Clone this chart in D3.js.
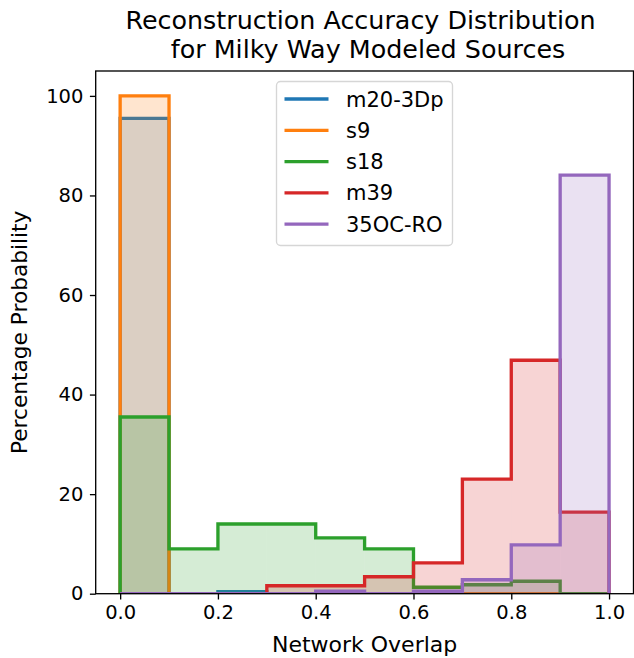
<!DOCTYPE html>
<meta charset="utf-8">
<style>
  body { margin: 0; background: #fff; }
  text { font-family: "DejaVu Sans", sans-serif; fill: #000; }
</style>
<body>
</body>

<script src="https://d3js.org/d3.v7.min.js"></script>
<script>

// bin edges of the histogram (network overlap)
var binEdges = [0, 0.1, 0.2, 0.3, 0.4, 0.5, 0.6, 0.7, 0.8, 0.9, 1.0];
var xTicks = [0, 0.2, 0.4, 0.6, 0.8, 1.0];
var yTicks = [0, 20, 40, 60, 80, 100];

// percentage per bin
var m20_3Dp = [95.5, 0, 0.4, 0, 0, 0, 0, 0, 0, 0];
var s9      = [100, 0, 0, 0, 0, 0, 0, 0, 0, 0];
var s18     = [35.5, 9.0, 14.0, 14.0, 11.2, 9.0, 1.3, 1.8, 2.5, 0];
var m39     = [0, 0, 0, 1.6, 1.6, 3.4, 6.2, 23.0, 46.9, 16.4];
var oc35RO  = [0, 0, 0, 0, 0.5, 0, 0.5, 2.8, 9.8, 84.1];

var seriesNames = ["m20-3Dp", "s9", "s18", "m39", "35OC-RO"];
var seriesValues = [m20_3Dp, s9, s18, m39, oc35RO];
var colors = ["#1f77b4", "#ff7f0e", "#2ca02c", "#d62728", "#9467bd"];

var width = 634, height = 658;
var plot = {left: 95.7, right: 633.5, top: 71, bottom: 593.7};

var x = d3.scaleLinear().domain([-0.05, 1.05]).range([plot.left, plot.right]);
var y = d3.scaleLinear().domain([0, 105]).range([plot.bottom, plot.top]);

var svg = d3.select("body").append("svg")
  .attr("width", width)
  .attr("height", height);

svg.append("defs").append("clipPath")
  .attr("id", "plotclip")
  .append("rect")
  .attr("x", plot.left)
  .attr("y", plot.top)
  .attr("width", plot.right - plot.left)
  .attr("height", plot.bottom - plot.top);

var plotArea = svg.append("g").attr("clip-path", "url(#plotclip)");

var line = d3.line()
  .x(function(d){ return x(d[0]); })
  .y(function(d){ return y(d[1]); });

seriesValues.forEach(function(values, k) {
  var bins = values.map(function(v, i){ return {x0: binEdges[i], x1: binEdges[i+1], v: v}; });

  // translucent bars
  plotArea.append("g")
    .selectAll("rect")
    .data(bins)
    .enter()
    .append("rect")
    .attr("x", function(d){ return x(d.x0); })
    .attr("width", function(d){ return x(d.x1) - x(d.x0); })
    .attr("y", function(d){ return y(d.v); })
    .attr("height", function(d){ return y(0) - y(d.v); })
    .attr("fill", colors[k])
    .attr("fill-opacity", 0.2);

  // step outline
  var pts = [[binEdges[0], 0]];
  bins.forEach(function(d){ pts.push([d.x0, d.v]); pts.push([d.x1, d.v]); });
  pts.push([binEdges[binEdges.length-1], 0]);

  plotArea.append("path")
    .attr("d", line(pts))
    .attr("fill", "none")
    .attr("stroke", colors[k])
    .attr("stroke-width", 3.33)
    .attr("stroke-linejoin", "miter");
});

// axes frame
svg.append("rect")
  .attr("x", plot.left)
  .attr("y", plot.top)
  .attr("width", plot.right - plot.left)
  .attr("height", plot.bottom - plot.top)
  .attr("fill", "none")
  .attr("stroke", "#000")
  .attr("stroke-width", 1.33);

var xAxis = d3.axisBottom(x).tickValues(xTicks).tickFormat(d3.format(".1f")).tickSizeInner(5.8).tickSizeOuter(0).tickPadding(5.8);
var yAxis = d3.axisLeft(y).tickValues(yTicks).tickFormat(d3.format("d")).tickSizeInner(5.8).tickSizeOuter(0).tickPadding(6.5);

var gx = svg.append("g").attr("transform", "translate(0," + plot.bottom + ")").call(xAxis);
var gy = svg.append("g").attr("transform", "translate(" + plot.left + ",0)").call(yAxis);
[gx, gy].forEach(function(g){
  g.select(".domain").remove();
  g.selectAll(".tick line").attr("stroke", "#000").attr("stroke-width", 1.33);
  g.selectAll(".tick text").attr("font-size", 19.5).attr("font-family", "DejaVu Sans").attr("fill", "#000");
});

// labels
svg.append("text")
  .attr("x", (plot.left + plot.right) / 2)
  .attr("y", 652)
  .attr("text-anchor", "middle")
  .attr("font-size", 22)
  .text("Network Overlap");

svg.append("text")
  .attr("transform", "translate(27," + (plot.top + plot.bottom) / 2 + ") rotate(-90)")
  .attr("text-anchor", "middle")
  .attr("font-size", 21.7)
  .text("Percentage Probability");

svg.append("text")
  .attr("x", 360.5)
  .attr("y", 29.3)
  .attr("text-anchor", "middle")
  .attr("font-size", 25.4)
  .text("Reconstruction Accuracy Distribution");
svg.append("text")
  .attr("x", 368)
  .attr("y", 57.5)
  .attr("text-anchor", "middle")
  .attr("font-size", 25.4)
  .text("for Milky Way Modeled Sources");

// legend
var legend = svg.append("g").attr("transform", "translate(276,81)");
legend.append("rect")
  .attr("x", 0.5)
  .attr("y", 0.5)
  .attr("width", 176)
  .attr("height", 164)
  .attr("rx", 4)
  .attr("fill", "#fff")
  .attr("fill-opacity", 0.8)
  .attr("stroke", "#d6d6d6")
  .attr("stroke-width", 1.33);

var items = legend.selectAll(".item")
  .data(seriesNames)
  .enter()
  .append("g")
  .attr("class", "item")
  .attr("transform", function(d, i){ return "translate(0," + (18 + i * 31.3) + ")"; });

items.append("line")
  .attr("x1", 8.5)
  .attr("x2", 52.5)
  .attr("stroke", function(d, i){ return colors[i]; })
  .attr("stroke-width", 3.33);

items.append("text")
  .attr("x", 70)
  .attr("y", 7.5)
  .attr("font-size", 21)
  .text(function(d){ return d; });

</script>
